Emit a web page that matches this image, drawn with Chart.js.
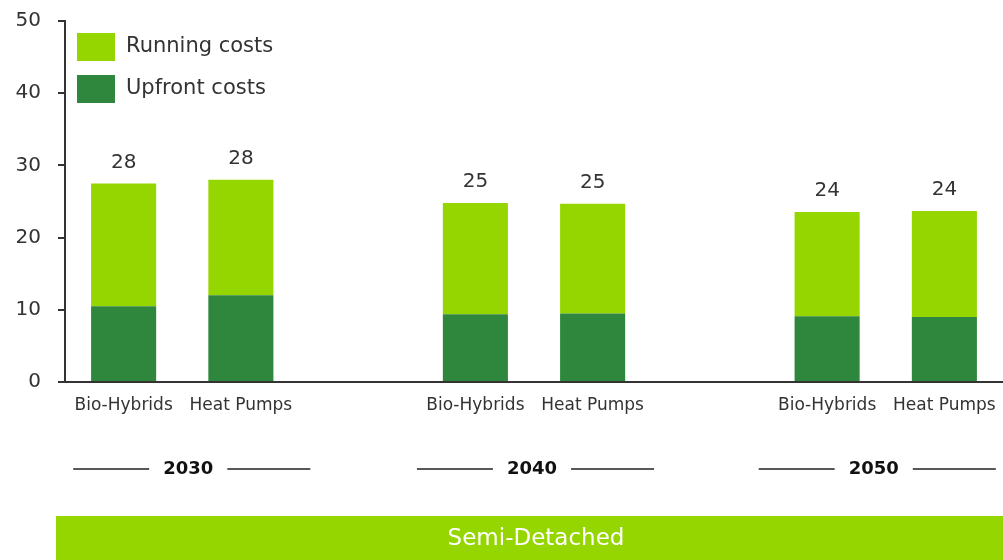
<!DOCTYPE html>
<html>
<head>
<meta charset="utf-8">
<script src="https://cdn.jsdelivr.net/npm/chart.js@4/dist/chart.umd.min.js"></script>
<style>
  html, body { margin: 0; padding: 0; background: #fff; }
  #wrap { width: 1003px; height: 560px; position: relative; }
</style>
</head>
<body>
<div id="wrap"><canvas id="c" width="1003" height="560"></canvas></div>
<script>
// cost per home, two technologies in each year, empty slot between years
const years = ['2030', '2040', '2050'];
const techs = ['Bio-Hybrids', 'Heat Pumps'];
const upfront = [10.5, 12.0, 9.4, 9.5, 9.1, 9.0];
const running = [17.0, 16.0, 15.4, 15.2, 14.45, 14.7];
const yTicks = [0, 10, 20, 30, 40, 50];
const banner = 'Semi-Detached';

const LIGHT = '#95d600';
const DARK = '#2f873d';
const INK = '#333333';
const FONT = '"DejaVu Sans", sans-serif';

// spread the series over slots, leaving a gap slot between year groups
const labels = [], upSlots = [], runSlots = [], groupOf = [];
years.forEach((y, gi) => {
  techs.forEach((t, ti) => {
    const k = gi * techs.length + ti;
    labels.push(t); upSlots.push(upfront[k]); runSlots.push(running[k]); groupOf.push(gi);
  });
  if (gi < years.length - 1) { labels.push(''); upSlots.push(null); runSlots.push(null); groupOf.push(-1); }
});

const yearNudge = [6, -2, -12];

const extras = {
  id: 'extras',
  afterDatasetsDraw(chart) {
    const { ctx, scales: { x, y } } = chart;
    ctx.save();
    // totals above each stack
    ctx.fillStyle = INK;
    ctx.font = '20px ' + FONT;
    ctx.textAlign = 'center';
    ctx.textBaseline = 'middle';
    labels.forEach((l, i) => {
      if (upSlots[i] == null) return;
      const tot = upSlots[i] + runSlots[i];
      ctx.fillText(String(Math.round(tot)), x.getPixelForValue(i), y.getPixelForValue(tot) - 21);
    });

    // legend, running costs first
    const items = [[LIGHT, 'Running costs'], [DARK, 'Upfront costs']];
    ctx.font = '21px ' + FONT;
    ctx.textAlign = 'left';
    items.forEach(([col, txt], j) => {
      const top = 33 + j * 42;
      ctx.fillStyle = col;
      ctx.fillRect(77, top, 38, 28);
      ctx.fillStyle = INK;
      ctx.fillText(txt, 126, top + 14);
    });

    // year headings with rules either side
    ctx.font = 'bold 18px ' + FONT;
    ctx.textAlign = 'center';
    ctx.strokeStyle = '#222';
    ctx.lineWidth = 1.5;
    years.forEach((yr, gi) => {
      const idx = groupOf.map((g, i) => g === gi ? i : -1).filter(i => i >= 0);
      const cx = (x.getPixelForValue(idx[0]) + x.getPixelForValue(idx[idx.length - 1])) / 2 + yearNudge[gi];
      const cy = 469;
      ctx.fillStyle = '#111';
      ctx.fillText(yr, cx, cy);
      const half = ctx.measureText(yr).width / 2;
      ctx.beginPath();
      ctx.moveTo(cx - half - 14, cy); ctx.lineTo(cx - half - 90, cy);
      ctx.moveTo(cx + half + 14, cy); ctx.lineTo(cx + half + 97, cy);
      ctx.stroke();
    });

    // house type banner
    ctx.fillStyle = LIGHT;
    ctx.fillRect(56, 516, chart.width - 56, 44);
    ctx.fillStyle = '#fff';
    ctx.font = '23px ' + FONT;
    ctx.fillText(banner, 536, 539);
    ctx.restore();
  }
};

new Chart(document.getElementById('c'), {
  type: 'bar',
  data: {
    labels,
    datasets: [
      { label: 'Upfront costs', data: upSlots, backgroundColor: DARK },
      { label: 'Running costs', data: runSlots, backgroundColor: LIGHT }
    ]
  },
  options: {
    responsive: false,
    animation: false,
    layout: { padding: { top: 21, right: 0, left: 0, bottom: 0 } },
    datasets: { bar: { categoryPercentage: 1, barPercentage: 0.555 } },
    plugins: { legend: { display: false }, tooltip: { enabled: false } },
    scales: {
      x: {
        stacked: true,
        grid: { display: false },
        border: { color: INK, width: 2 },
        ticks: { color: INK, font: { size: 17, family: FONT }, padding: 5, maxRotation: 0, autoSkip: false },
        afterFit(s) { s.height = 178; s.paddingLeft = 0; s.paddingRight = 0; }
      },
      y: {
        stacked: true,
        min: 0, max: 50,
        afterBuildTicks(s) { s.ticks = yTicks.map(v => ({ value: v })); },
        grid: { drawOnChartArea: false, drawTicks: true, tickLength: 7, color: INK, lineWidth: 2 },
        border: { color: INK, width: 2 },
        ticks: { color: INK, font: { size: 20, family: FONT }, padding: 17 },
        afterFit(s) { s.width = 65; s.paddingTop = 0; s.paddingBottom = 0; }
      }
    }
  },
  plugins: [extras]
});
</script>
</body>
</html>
